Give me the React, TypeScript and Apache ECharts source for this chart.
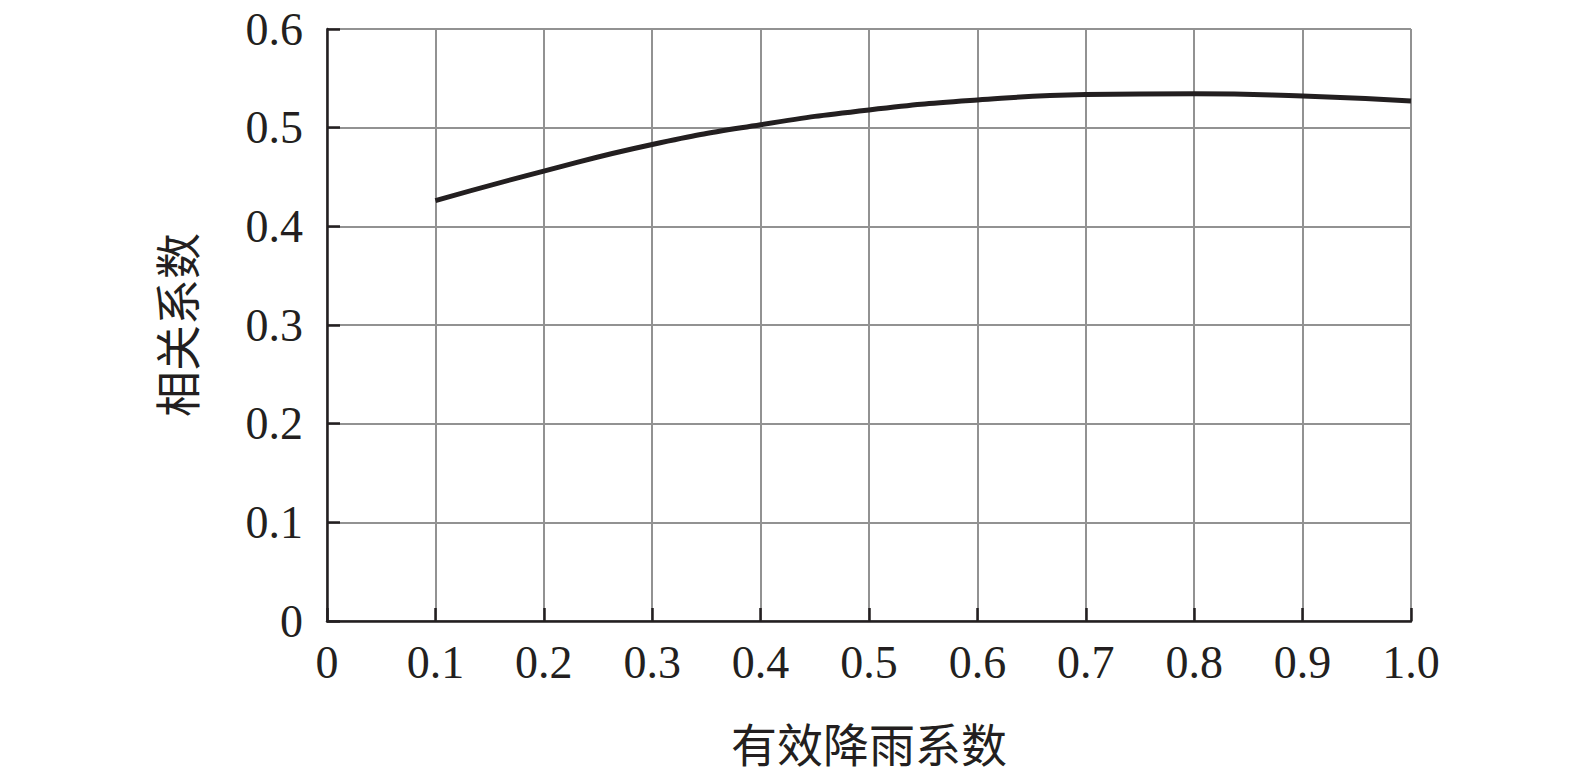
import React, { useEffect, useRef } from "react";
import * as echarts from "echarts";

const xValues = [0.1, 0.2, 0.3, 0.4, 0.5, 0.6, 0.7, 0.8, 0.9, 1.0];
const corrValues = [0.426, 0.456, 0.483, 0.503, 0.518, 0.528, 0.5335, 0.5345, 0.532, 0.527];
const xAxisTitle = "有效降雨系数";
const yAxisTitle = "相关系数";

export default function App() {
  const ref = useRef<HTMLDivElement>(null);
  useEffect(() => {
    if (!ref.current) return;
    const chart = echarts.init(ref.current, undefined, { renderer: "svg" });
    const fmt = (v: number) => (v === 0 ? "0" : v.toFixed(1));
    const labelStyle = {
      fontFamily: "Liberation Serif",
      fontSize: 46,
      color: "#231f20",
    };
    chart.setOption({
      animation: false,
      backgroundColor: "#ffffff",
      grid: { left: 327, right: 164, top: 29, bottom: 155, containLabel: false },
      xAxis: {
        type: "value",
        min: 0,
        max: 1,
        interval: 0.1,
        name: xAxisTitle,
        nameLocation: "middle",
        nameGap: 98,
        nameTextStyle: { fontFamily: "Noto Sans CJK SC", fontSize: 46, color: "#231f20" },
        axisLine: { show: true, onZero: false, lineStyle: { color: "#231f20", width: 2.5 } },
        axisTick: { show: true, inside: true, length: 13, lineStyle: { color: "#231f20", width: 2.5 } },
        axisLabel: { ...labelStyle, margin: 18, formatter: fmt },
        splitLine: { show: true, lineStyle: { color: "#929292", width: 2 } },
      },
      yAxis: {
        type: "value",
        min: 0,
        max: 0.6,
        interval: 0.1,
        name: yAxisTitle,
        nameLocation: "middle",
        nameRotate: 90,
        nameGap: 129,
        nameTextStyle: { fontFamily: "Noto Sans CJK SC", fontSize: 46, color: "#231f20" },
        axisLine: { show: true, onZero: false, lineStyle: { color: "#231f20", width: 2.5 } },
        axisTick: { show: true, inside: true, length: 13, lineStyle: { color: "#231f20", width: 2.5 } },
        axisLabel: { ...labelStyle, margin: 24, formatter: fmt },
        splitLine: { show: true, lineStyle: { color: "#929292", width: 2 } },
      },
      series: [
        {
          type: "line",
          data: xValues.map((x, i) => [x, corrValues[i]]),
          smooth: true,
          showSymbol: false,
          lineStyle: { color: "#231f20", width: 5 },
        },
      ],
    });
    return () => chart.dispose();
  }, []);
  return (
    <div
      ref={ref}
      style={{ position: "fixed", left: 0, top: 0, width: "100vw", height: "100vh", background: "#fff" }}
    />
  );
}
